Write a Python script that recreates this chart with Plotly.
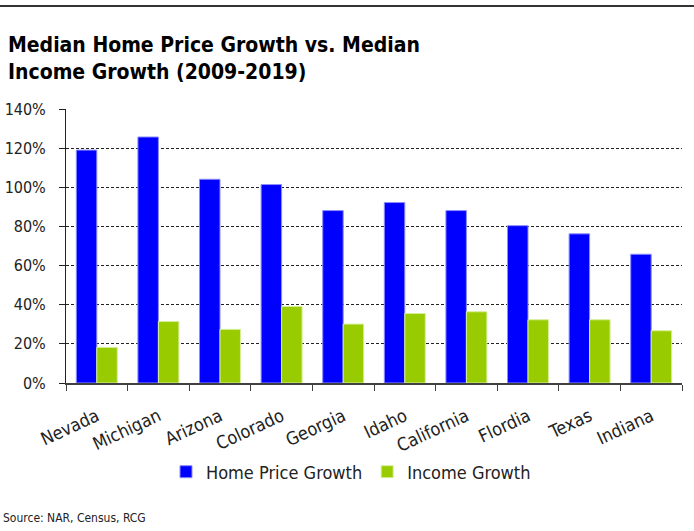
import plotly.graph_objects as go

states = ["Nevada", "Michigan", "Arizona", "Colorado", "Georgia", "Idaho",
          "California", "Flordia", "Texas", "Indiana"]
home_price_growth = [119, 125.7, 104.1, 101.4, 88.1, 92.2, 88.1, 80.4, 76.2, 65.8]
income_growth = [18.2, 31.4, 27.4, 39.1, 30.1, 35.5, 36.4, 32.3, 32.3, 26.7]
y_ticks = [0, 20, 40, 60, 80, 100, 120, 140]
y_tick_labels = [f"{v}%" for v in y_ticks]

FONT = "DejaVu Sans Condensed, Liberation Sans Narrow, Liberation Sans, sans-serif"

fig = go.Figure()
fig.add_trace(go.Bar(
    x=states, y=home_price_growth, name="Home Price Growth",
    marker=dict(color="#0000FF", line=dict(color="#8C8CFF", width=1)),
))
fig.add_trace(go.Bar(
    x=states, y=income_growth, name="Income Growth",
    marker=dict(color="#99CC00", line=dict(color="#D6EE99", width=1)),
))

fig.update_layout(
    width=694, height=531,
    paper_bgcolor="white", plot_bgcolor="white",
    margin=dict(l=66, r=12, t=109, b=148, autoexpand=False),
    font=dict(family=FONT, color="#222222", size=16),
    barmode="group", bargap=0.335, bargroupgap=0,
    title=dict(
        text="Median Home Price Growth vs. Median<br>Income Growth (2009-2019)",
        x=8 / 694, xanchor="left", y=1 - 52 / 531, yanchor="middle",
        font=dict(family=FONT, size=21, color="black", weight="bold"),
    ),
    xaxis=dict(
        type="category", automargin=False, tickangle=-25, ticklabelstandoff=14,
        tickfont=dict(family=FONT, size=18, color="#222222"),
        showline=True, linecolor="#404040", linewidth=2,
        ticks="outside", ticklen=6, tickcolor="#404040", tickwidth=1,
        tickson="boundaries", showgrid=False, zeroline=False,
    ),
    yaxis=dict(
        range=[0, 140], tickvals=y_ticks, ticktext=y_tick_labels, automargin=False,
        showline=True, linecolor="#222222", linewidth=1,
        ticks="outside", ticklen=6, tickcolor="#222222", ticklabelstandoff=10,
        showgrid=True, gridcolor="#222222", gridwidth=1, griddash="3px,2px",
        zeroline=False, tickfont=dict(family=FONT, size=16, color="#222222"),
    ),
    legend=dict(
        orientation="h", x=166 / 694, xanchor="left", xref="container",
        y=1 - 472 / 531, yanchor="middle", yref="container",
        font=dict(family=FONT, size=18, color="#222222"),
        itemwidth=30, traceorder="normal",
    ),
    shapes=[dict(
        type="line", xref="paper", yref="paper",
        x0=-66 / 616, x1=(694 - 66) / 616, y0=(383 - 6) / 274, y1=(383 - 6) / 274,
        line=dict(color="#333333", width=2),
    )],
    annotations=[dict(
        text="Source: NAR, Census, RCG", xref="paper", yref="paper",
        x=-65 / 616, y=-(518 - 383) / 274, xanchor="left", yanchor="middle",
        showarrow=False, font=dict(family=FONT, size=12, color="#222222"),
    )],
)

fig.write_html("out.html", post_script="document.body.style.margin='0px';",
               config={"displayModeBar": False})
